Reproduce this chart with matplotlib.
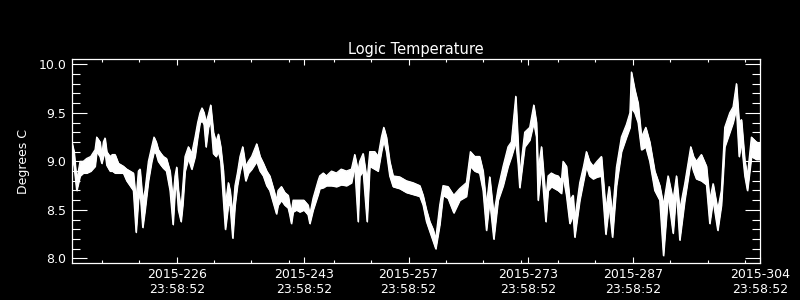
import matplotlib
matplotlib.use('Agg')
import matplotlib.pyplot as plt
import numpy as np
from matplotlib.ticker import FixedLocator, MultipleLocator

# day of year 2015, upper / lower edge of the trace in deg C
days = [212.0, 212.27, 212.62, 213.07, 213.5, 213.96, 214.5, 215.08, 215.3, 215.74,
        215.97, 216.19, 216.41, 216.64, 217.08, 217.4, 217.75, 218.2, 218.86, 219.31,
        219.76, 220.2, 220.56, 220.87, 221.09, 221.45, 221.76, 222.21, 222.65, 222.96,
        223.25, 223.54, 223.9, 224.21, 224.62, 225.1, 225.5, 225.77, 225.99, 226.22,
        226.57, 226.8, 227.11, 227.56, 228.0, 228.45, 228.8, 229.11, 229.38, 229.65,
        229.91, 230.23, 230.54, 230.9, 231.25, 231.57, 231.88, 232.23, 232.5, 232.9,
        233.13, 233.48, 233.79, 234.11, 234.46, 234.82, 235.22, 235.58, 236.02, 236.69,
        237.14, 237.58, 238.03, 238.44, 239.0, 239.33, 239.55, 240.0, 240.44, 240.9,
        241.11, 241.33, 241.56, 242.0, 242.45, 243.0, 243.56, 243.79, 244.23, 244.9,
        245.12, 245.6, 246.01, 246.7, 247.35, 248.0, 248.69, 249.36, 249.8, 250.25,
        250.47, 250.92, 251.45, 251.81, 252.48, 252.92, 253.37, 253.68, 254.04, 254.48,
        254.93, 255.82, 256.71, 257.6, 258.5, 258.94, 259.39, 259.83, 260.28, 260.63,
        261.17, 261.61, 262.28, 263.04, 263.84, 264.73, 265.27, 265.85, 266.5, 266.96,
        267.41, 267.85, 268.39, 268.97, 269.64, 270.3, 270.75, 271.33, 271.64, 271.86,
        272.53, 273.2, 273.74, 274.1, 274.32, 274.77, 275.35, 275.66, 276.1, 276.55,
        277.0, 277.44, 277.66, 278.11, 278.56, 279.0, 279.22, 279.89, 280.4, 280.78,
        281.2, 281.68, 282.2, 282.79, 283.37, 283.82, 284.26, 284.8, 285.46, 286.13,
        286.6, 286.8, 287.25, 287.69, 288.14, 288.72, 289.25, 289.92, 290.59, 291.08,
        291.7, 292.37, 292.82, 293.26, 293.93, 294.73, 295.1, 295.49, 296.16, 296.83,
        297.27, 297.72, 298.34, 298.83, 299.28, 299.95, 300.39, 300.84, 301.2, 301.51,
        301.96, 302.31, 302.85, 303.51, 304.05]
temp_hi = [9.19, 9.10, 8.80, 9.00, 9.00, 9.03, 9.05, 9.12, 9.25, 9.20,
           9.05, 9.20, 9.24, 9.10, 9.05, 9.07, 9.07, 8.98, 8.95, 8.92,
           8.90, 8.88, 8.60, 8.90, 8.92, 8.60, 8.70, 9.00, 9.15, 9.25,
           9.20, 9.12, 9.08, 9.05, 9.03, 8.90, 8.60, 8.85, 8.94, 8.70,
           8.50, 8.74, 9.05, 9.15, 9.08, 9.25, 9.40, 9.50, 9.55, 9.50,
           9.40, 9.48, 9.58, 9.30, 9.20, 9.28, 9.15, 8.90, 8.55, 8.78,
           8.70, 8.45, 8.75, 8.88, 9.05, 9.15, 8.95, 9.00, 9.05, 9.18,
           9.05, 8.98, 8.90, 8.85, 8.70, 8.60, 8.70, 8.74, 8.68, 8.65,
           8.55, 8.48, 8.60, 8.60, 8.60, 8.60, 8.55, 8.45, 8.62, 8.80,
           8.85, 8.88, 8.85, 8.90, 8.88, 8.92, 8.90, 8.92, 9.07, 8.90,
           9.00, 9.08, 8.80, 9.10, 9.10, 9.05, 9.25, 9.35, 9.25, 9.00,
           8.85, 8.84, 8.80, 8.78, 8.75, 8.65, 8.50, 8.38, 8.30, 8.20,
           8.55, 8.75, 8.74, 8.65, 8.72, 8.78, 9.10, 9.05, 9.05, 8.90,
           8.55, 8.84, 8.45, 8.72, 8.95, 9.15, 9.20, 9.67, 9.20, 8.85,
           9.30, 9.35, 9.58, 9.40, 8.90, 9.15, 8.60, 8.85, 8.88, 8.86,
           8.85, 8.80, 9.00, 8.95, 8.60, 8.65, 8.40, 8.78, 8.95, 9.10,
           9.00, 8.95, 9.00, 9.05, 8.50, 8.74, 8.45, 8.94, 9.25, 9.38,
           9.50, 9.92, 9.74, 9.60, 9.25, 9.35, 9.20, 8.90, 8.75, 8.55,
           8.85, 8.60, 8.85, 8.50, 8.77, 9.15, 9.05, 9.00, 9.07, 8.95,
           8.60, 8.77, 8.50, 8.70, 9.35, 9.50, 9.56, 9.80, 9.40, 9.43,
           9.01, 8.85, 9.25, 9.20, 9.18]
temp_lo = [9.05, 8.95, 8.70, 8.85, 8.88, 8.88, 8.90, 8.95, 9.10, 9.05,
           8.98, 9.05, 9.10, 8.96, 8.90, 8.90, 8.88, 8.88, 8.88, 8.80,
           8.75, 8.70, 8.27, 8.60, 8.70, 8.32, 8.50, 8.80, 9.00, 9.10,
           9.08, 9.00, 8.96, 8.93, 8.90, 8.70, 8.35, 8.70, 8.75, 8.50,
           8.38, 8.55, 8.90, 9.03, 8.92, 9.05, 9.25, 9.40, 9.42, 9.38,
           9.15, 9.35, 9.42, 9.08, 9.05, 9.10, 9.00, 8.60, 8.30, 8.55,
           8.55, 8.21, 8.55, 8.75, 8.90, 9.00, 8.80, 8.88, 8.92, 9.00,
           8.90, 8.85, 8.75, 8.70, 8.55, 8.46, 8.55, 8.60, 8.55, 8.52,
           8.45, 8.36, 8.48, 8.50, 8.48, 8.50, 8.45, 8.36, 8.50, 8.66,
           8.72, 8.73, 8.75, 8.75, 8.74, 8.76, 8.75, 8.78, 8.95, 8.38,
           8.85, 8.90, 8.38, 8.95, 8.92, 8.90, 9.10, 9.22, 9.10, 8.85,
           8.74, 8.72, 8.68, 8.66, 8.64, 8.55, 8.38, 8.28, 8.18, 8.10,
           8.35, 8.65, 8.62, 8.47, 8.60, 8.64, 8.95, 8.90, 8.88, 8.70,
           8.29, 8.60, 8.20, 8.60, 8.75, 8.95, 9.05, 9.20, 8.98, 8.73,
           9.15, 9.22, 9.40, 9.25, 8.60, 8.95, 8.38, 8.70, 8.74, 8.72,
           8.70, 8.67, 8.85, 8.65, 8.36, 8.45, 8.22, 8.60, 8.80, 8.95,
           8.85, 8.82, 8.84, 8.85, 8.25, 8.55, 8.22, 8.75, 9.10, 9.25,
           9.35, 9.55, 9.50, 9.40, 9.12, 9.15, 9.00, 8.70, 8.60, 8.03,
           8.65, 8.26, 8.70, 8.19, 8.60, 9.00, 8.90, 8.82, 8.80, 8.76,
           8.36, 8.60, 8.29, 8.55, 9.15, 9.30, 9.40, 9.55, 9.05, 9.20,
           8.85, 8.70, 9.05, 9.02, 9.02]

major_days = [226, 243, 257, 273, 287, 304]
major_labels = ['2015-226\n23:58:52', '2015-243\n23:58:52', '2015-257\n23:58:52',
                '2015-273\n23:58:52', '2015-287\n23:58:52', '2015-304\n23:58:52']
minor_days = [216, 221, 231, 236, 241, 247, 252, 262, 267, 272, 277, 282, 292, 297, 302]

plt.rcParams['font.family'] = ['DejaVu Sans']
fig = plt.figure(figsize=(8, 3), dpi=100, facecolor='black')
ax = fig.add_axes([0.09, 0.124, 0.86, 0.678], facecolor='black')

ax.fill_between(days, temp_lo, temp_hi, color='white', lw=0.8, edgecolor='white')
ax.plot(days, temp_hi, color='white', lw=0.9)
ax.plot(days, temp_lo, color='white', lw=0.9)

ax.set_xlim(212, 304)
ax.set_ylim(7.955, 10.05)

ax.xaxis.set_major_locator(FixedLocator(major_days))
ax.set_xticklabels(major_labels)
ax.xaxis.set_minor_locator(FixedLocator(minor_days))
ax.yaxis.set_major_locator(FixedLocator([8.0, 8.5, 9.0, 9.5, 10.0]))
ax.set_yticklabels(['8.0', '8.5', '9.0', '9.5', '10.0'])
ax.yaxis.set_minor_locator(MultipleLocator(0.1))

for s in ax.spines.values():
    s.set_color('white')
    s.set_linewidth(0.9)

ax.tick_params(axis='both', which='both', direction='in', colors='white',
               top=True, right=True, width=0.8, labelsize=9)
ax.tick_params(axis='x', which='major', length=4.3, pad=4)
ax.tick_params(axis='x', which='minor', length=2.2)
ax.tick_params(axis='y', which='major', length=10.8, pad=4)
ax.tick_params(axis='y', which='minor', length=5.8)
for lab in ax.get_xticklabels():
    lab.set_linespacing(1.15)

ax.set_ylabel('Degrees C', color='white', fontsize=9, labelpad=6)
ax.set_title('Logic Temperature', color='white', fontsize=10.5, pad=4)

fig.savefig('out.png', dpi=100, facecolor='black')
